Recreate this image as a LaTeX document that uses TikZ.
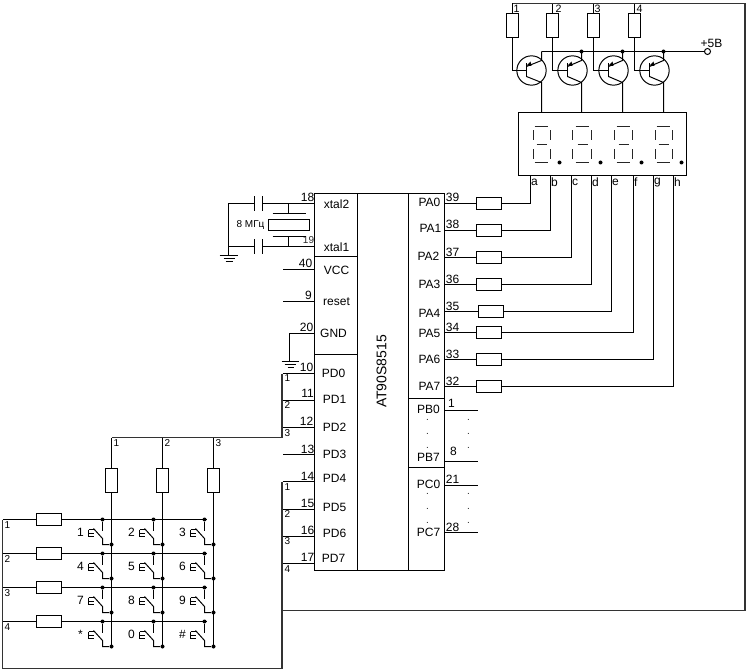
\documentclass[tikz,border=0pt]{standalone}
\usepackage{fontspec}
\setmainfont{Liberation Sans}
\usepackage{tikz}
\usetikzlibrary{positioning}
\tikzstyle{wire} = [line width=0.75pt,black]
\tikzstyle{bus} = [line width=1.3pt,black!80,line join=miter]
\tikzstyle{seg} = [line width=1.1pt,black!85]
\tikzstyle{block} = [rectangle, draw, line width=0.75pt, inner sep=0pt]
\tikzstyle{resh} = [block, minimum width=18.75pt, minimum height=9pt]
\tikzstyle{resv} = [block, minimum width=9pt, minimum height=18pt]
\tikzstyle{dot} = [circle, fill=black, inner sep=0pt, minimum size=3pt]
\tikzstyle{txt} = [inner sep=0pt, font=\fontsize{9}{10}\selectfont]
\tikzstyle{small} = [inner sep=0pt, font=\fontsize{7.5}{8}\selectfont]
\tikzstyle{tiny} = [inner sep=0pt, font=\fontsize{7.5}{8}\selectfont, text=black!85]
\begin{document}
\begin{tikzpicture}[x=0.75pt,y=-0.75pt]
    \useasboundingbox (-0.5,-0.5) rectangle (745.5,669.5);

    % microcontroller
    \node (chip) [block, minimum width=97.5pt, minimum height=282.75pt] at (379,381.5) {};
    \draw [wire] (357,193) -- (357,570);
    \draw [wire] (408,193) -- (408,570);
    \draw [wire] (314,256) -- (357,256);
    \draw [wire] (314,354) -- (357,354);
    \draw [wire] (408,398) -- (444,398);
    \draw [wire] (408,467) -- (444,467);
    \node (chipname) [inner sep=0pt, font=\fontsize{10.5}{12}\selectfont, rotate=90] at (381,371) {AT90S8515};

    % left side names
    \foreach \name/\x/\y in {xtal2/336/204, xtal1/336/247, VCC/336/270, reset/336/301, GND/333/333,
        PD0/333/373, PD1/334/399, PD2/334/427, PD3/334/454, PD4/334/478, PD5/334/507, PD6/334/533, PD7/333/558}
        \node (lab\name) [txt] at (\x,\y) {\name};
    % right side names
    \foreach \name/\x/\y in {PA0/429/202, PA1/430/228, PA2/428/256, PA3/429/284, PA4/429/313, PA5/429/333,
        PA6/429/359, PA7/429/386, PB0/428/409, PB7/428/457, PC0/428/484, PC7/428/532}
        \node (lab\name) [txt] at (\x,\y) {\name};
    % pin numbers
    \foreach \num/\x/\y in {18/307/197, 40/305/263, 9/308/295, 20/306/327, 10/306/367, 11/307/393, 12/306/421,
        13/307/449, 14/307/476, 15/307/503, 16/307/530, 17/307/557, 1/451/403, 8/453/451, 21/452/479, 28/452/527}
        \node (num\num) [txt] at (\x,\y) {\num};
    \node (num19) [tiny] at (308,240) {19};

    % free pins
    \foreach \name/\y in {vcc/269, reset/301, pdt/454} {
        \coordinate (\name) at (314,\y);
        \coordinate (\name end) at (282,\y);
        \draw [wire] (\name) -- (\name end);
    }
    \foreach \name/\y in {pb0/410, pb7/461, pc0/485, pc7/532} {
        \coordinate (\name) at (444,\y);
        \coordinate (\name end) at (477,\y);
        \draw [wire] (\name) -- (\name end);
    }
    % dots between the port pins
    \foreach \x/\k in {427/l, 468/r}
        \foreach \y in {419, 433, 447, 493, 508, 522}
            \node (pt\k\y) [tiny] at (\x,\y) {.};

    % crystal
    \coordinate (xt2) at (314,203);
    \coordinate (xt1) at (314,246);
    \coordinate (gnda) at (228,255);
    \node (quartz) [block, minimum width=30.75pt, minimum height=8.25pt] at (288.5,224.5) {};
    \node (mhz) [small] at (250,225) {8 МГц};
    \draw [wire] (xt2) -- (262,203);
    \draw [wire] (xt1) -- (262,246);
    \draw [wire] (254,203) -| (gnda);
    \draw [wire] (254,246) -- (228,246);
    \draw [wire] (254,196) -- (254,211);
    \draw [wire] (262,196) -- (262,211);
    \draw [wire] (254,239) -- (254,254);
    \draw [wire] (262,239) -- (262,254);
    \draw [wire] (272,213) -- (305,213);
    \draw [wire] (272,236) -- (305,236);
    \draw [wire] (288,203) -- (288,213);
    \draw [wire] (288,236) -- (288,246);
    \draw [wire] (219,255) -- (237,255);
    \draw [wire] (223,258) -- (234,258);
    \draw [wire] (225,261) -- (232,261);

    % ground of the chip
    \coordinate (gnd) at (314,333);
    \coordinate (gndb) at (289,361);
    \draw [wire] (gnd) -| (gndb);
    \draw [wire] (281,361) -- (298,361);
    \draw [wire] (284,364) -- (295,364);
    \draw [wire] (287,367) -- (293,367);

    % port A to the display
    \node (disp) [block, minimum width=126pt, minimum height=47.25pt] at (602,143.5) {};
    \foreach \i/\y/\rx/\sx/\seg/\nx/\ny in {0/203/488/530/a/452/197, 1/230/488/550/b/452/224, 2/257/488/571/c/452/252,
        3/284/488/591/d/452/279, 4/311/490/611/e/452/306, 5/332/488/633/f/452/327, 6/359/488/653/g/452/354, 7/386/488/673/h/452/381} {
        \coordinate (pa\i) at (444,\y);
        \coordinate (s\seg) at (\sx,175);
        \node (ra\i) [resh] at (\rx,\y) {};
        \draw [wire] (pa\i) -- (ra\i);
        \draw [wire] (ra\i) -| (s\seg);
        \node (lab\seg) [small, font=\fontsize{9}{10}\selectfont, right=0.2pt of s\seg, yshift=-5.25pt] {\seg};
    }
    \foreach \num/\y in {39/197, 38/224, 37/252, 36/279, 35/306, 34/327, 33/354, 32/381}
        \node (num\num) [txt] at (452,\y) {\num};

    % digits
    \foreach \dx/\lx/\i in {0/0/1, 41/39/2, 82/81/3, 122/122/4} {
        \draw [seg] (534+\dx,126) -- (547+\dx,126);
        \draw [seg] (536+\dx,144) -- (546+\dx,144);
        \draw [seg] (534+\dx,162) -- (547+\dx,162);
        \draw [seg] (533+\lx,130) -- (533+\lx,140);
        \draw [seg] (550+\dx,130) -- (550+\dx,140);
        \draw [seg] (533+\lx,149) -- (533+\lx,159);
        \draw [seg] (550+\dx,149) -- (550+\dx,159);
        \node (point\i) [dot] at (559+\dx,162) {};
    }

    % transistors
    \coordinate (top) at (512,3);
    \coordinate (plus) at (541,51);
    \node (pwr) [circle, draw, line width=0.75pt, fill=white, inner sep=0pt, minimum size=4.5pt] at (707,51) {};
    \node (pwrlab) [txt] at (711,43) {+5В};
    \draw [wire] (plus) -- (pwr);
    \foreach \i/\rx/\qx/\cx/\lx in {1/512/531/541/516, 2/552/572/581/558, 3/593/613/622/597, 4/634/654/663/639} {
        \node (rq\i) [resv] at (\rx,25.5) {};
        \node (q\i) [circle, draw, line width=0.75pt, inner sep=0pt, minimum size=22pt] at (\qx,70) {};
        \node (num\i top) [small, font=\fontsize{8}{9}\selectfont] at (\lx,8) {\i};
        \coordinate (base\i) at (\qx-5,70);
        \coordinate (col\i) at (\cx,51);
        \coordinate (emi\i) at (\cx,112);
        \draw [wire] (rq\i.north) -- (\rx,3);
        \draw [wire] (rq\i.south) |- (base\i);
        \draw [wire] (\qx-5,63) -- (\qx-5,77);
        \draw [wire] (\qx-5,66) -- (\cx,60) -- (col\i);
        \draw [wire] (\qx-5,76) -- (\cx,82) -- (emi\i);
        \fill (\qx-5,65) -- (\qx-1,61) -- (\qx,65.5) -- cycle;
    }
    \foreach \i in {2,3,4}
        \node (jq\i) [dot] at (col\i) {};

    % bus to the display transistors
    \coordinate (kbus) at (281.5,481);
    \coordinate (kend) at (281.5,668);
    \coordinate (dbus) at (281.5,610);
    \coordinate (dright) at (744.5,610);
    \coordinate (dtop) at (744.5,3);
    \draw [bus] (dbus) -- (dright) -- (dtop) -- (top);

    % keypad: column bus
    \coordinate (cbus) at (281.5,373);
    \coordinate (cturn) at (281.5,437);
    \coordinate (cleft) at (111,437);
    \draw [bus] (cbus) -- (cturn) -- (cleft);
    \draw [bus] (kbus) -- (kend) -- (2,668) -- (2,519);
    \foreach \num/\y/\ly in {1/373/378, 2/400/405, 3/427/433} {
        \coordinate (pd\num) at (314,\y);
        \coordinate (pd\num end) at (282,\y);
        \draw [wire] (pd\num) -- (pd\num end);
        \node (cl\num) [small] at (287,\ly) {\num};
    }
    \foreach \num/\y/\ly in {1/481/487, 2/509/514, 3/536/541, 4/563/569} {
        \coordinate (pk\num) at (314,\y);
        \coordinate (pk\num end) at (282,\y);
        \draw [wire] (pk\num) -- (pk\num end);
        \node (kl\num) [small] at (287,\ly) {\num};
    }

    % keypad: columns
    \foreach \k/\cx in {1/111, 2/162, 3/213} {
        \node (rc\k) [resv] at (\cx,480) {};
        \coordinate (ct\k) at (\cx,437);
        \coordinate (cb\k) at (\cx,646);
        \draw [wire] (ct\k) -- (rc\k);
        \draw [wire] (rc\k) -- (cb\k);
        \node (col\k lab) [small] at (\cx+5,443) {\k};
    }

    % keypad: rows
    \foreach \j/\ry in {1/519, 2/553, 3/587, 4/621} {
        \node (rr\j) [resh] at (48,\ry) {};
        \coordinate (rl\j) at (2,\ry);
        \coordinate (re\j) at (206,\ry);
        \draw [wire] (rl\j) -- (rr\j);
        \draw [wire] (rr\j) -- (re\j);
        \node (row\j lab) [small] at (7,\ry+6) {\j};
    }

    % keypad: switches
    \foreach \j/\ry/\ka/\kb/\kc in {1/519/1/2/3, 2/553/4/5/6, 3/587/7/8/9, 4/621/*/0/\#}
        \foreach \k/\cx/\key in {1/111/\ka, 2/162/\kb, 3/213/\kc} {
            \node (in\j\k) [dot] at (\cx-9,\ry) {};
            \node (out\j\k) [dot] at (\cx,\ry+25) {};
            \node (key\j\k) [txt] at (\cx-31,\ry+13) {\key};
            \draw [wire] (in\j\k) -- ++(0,11);
            \draw [wire] (\cx-18,\ry+9) -- (\cx-9,\ry+19) |- (out\j\k);
            \draw [wire] (\cx-23,\ry+10) -- (\cx-18,\ry+10);
            \draw [wire] (\cx-23,\ry+13.5) -- (\cx-18,\ry+13.5);
            \draw [wire] (\cx-23,\ry+17) -- (\cx-18,\ry+17);
            \draw [wire] (\cx-23,\ry+10) -- (\cx-23,\ry+17);
        }
\end{tikzpicture}
\end{document}
